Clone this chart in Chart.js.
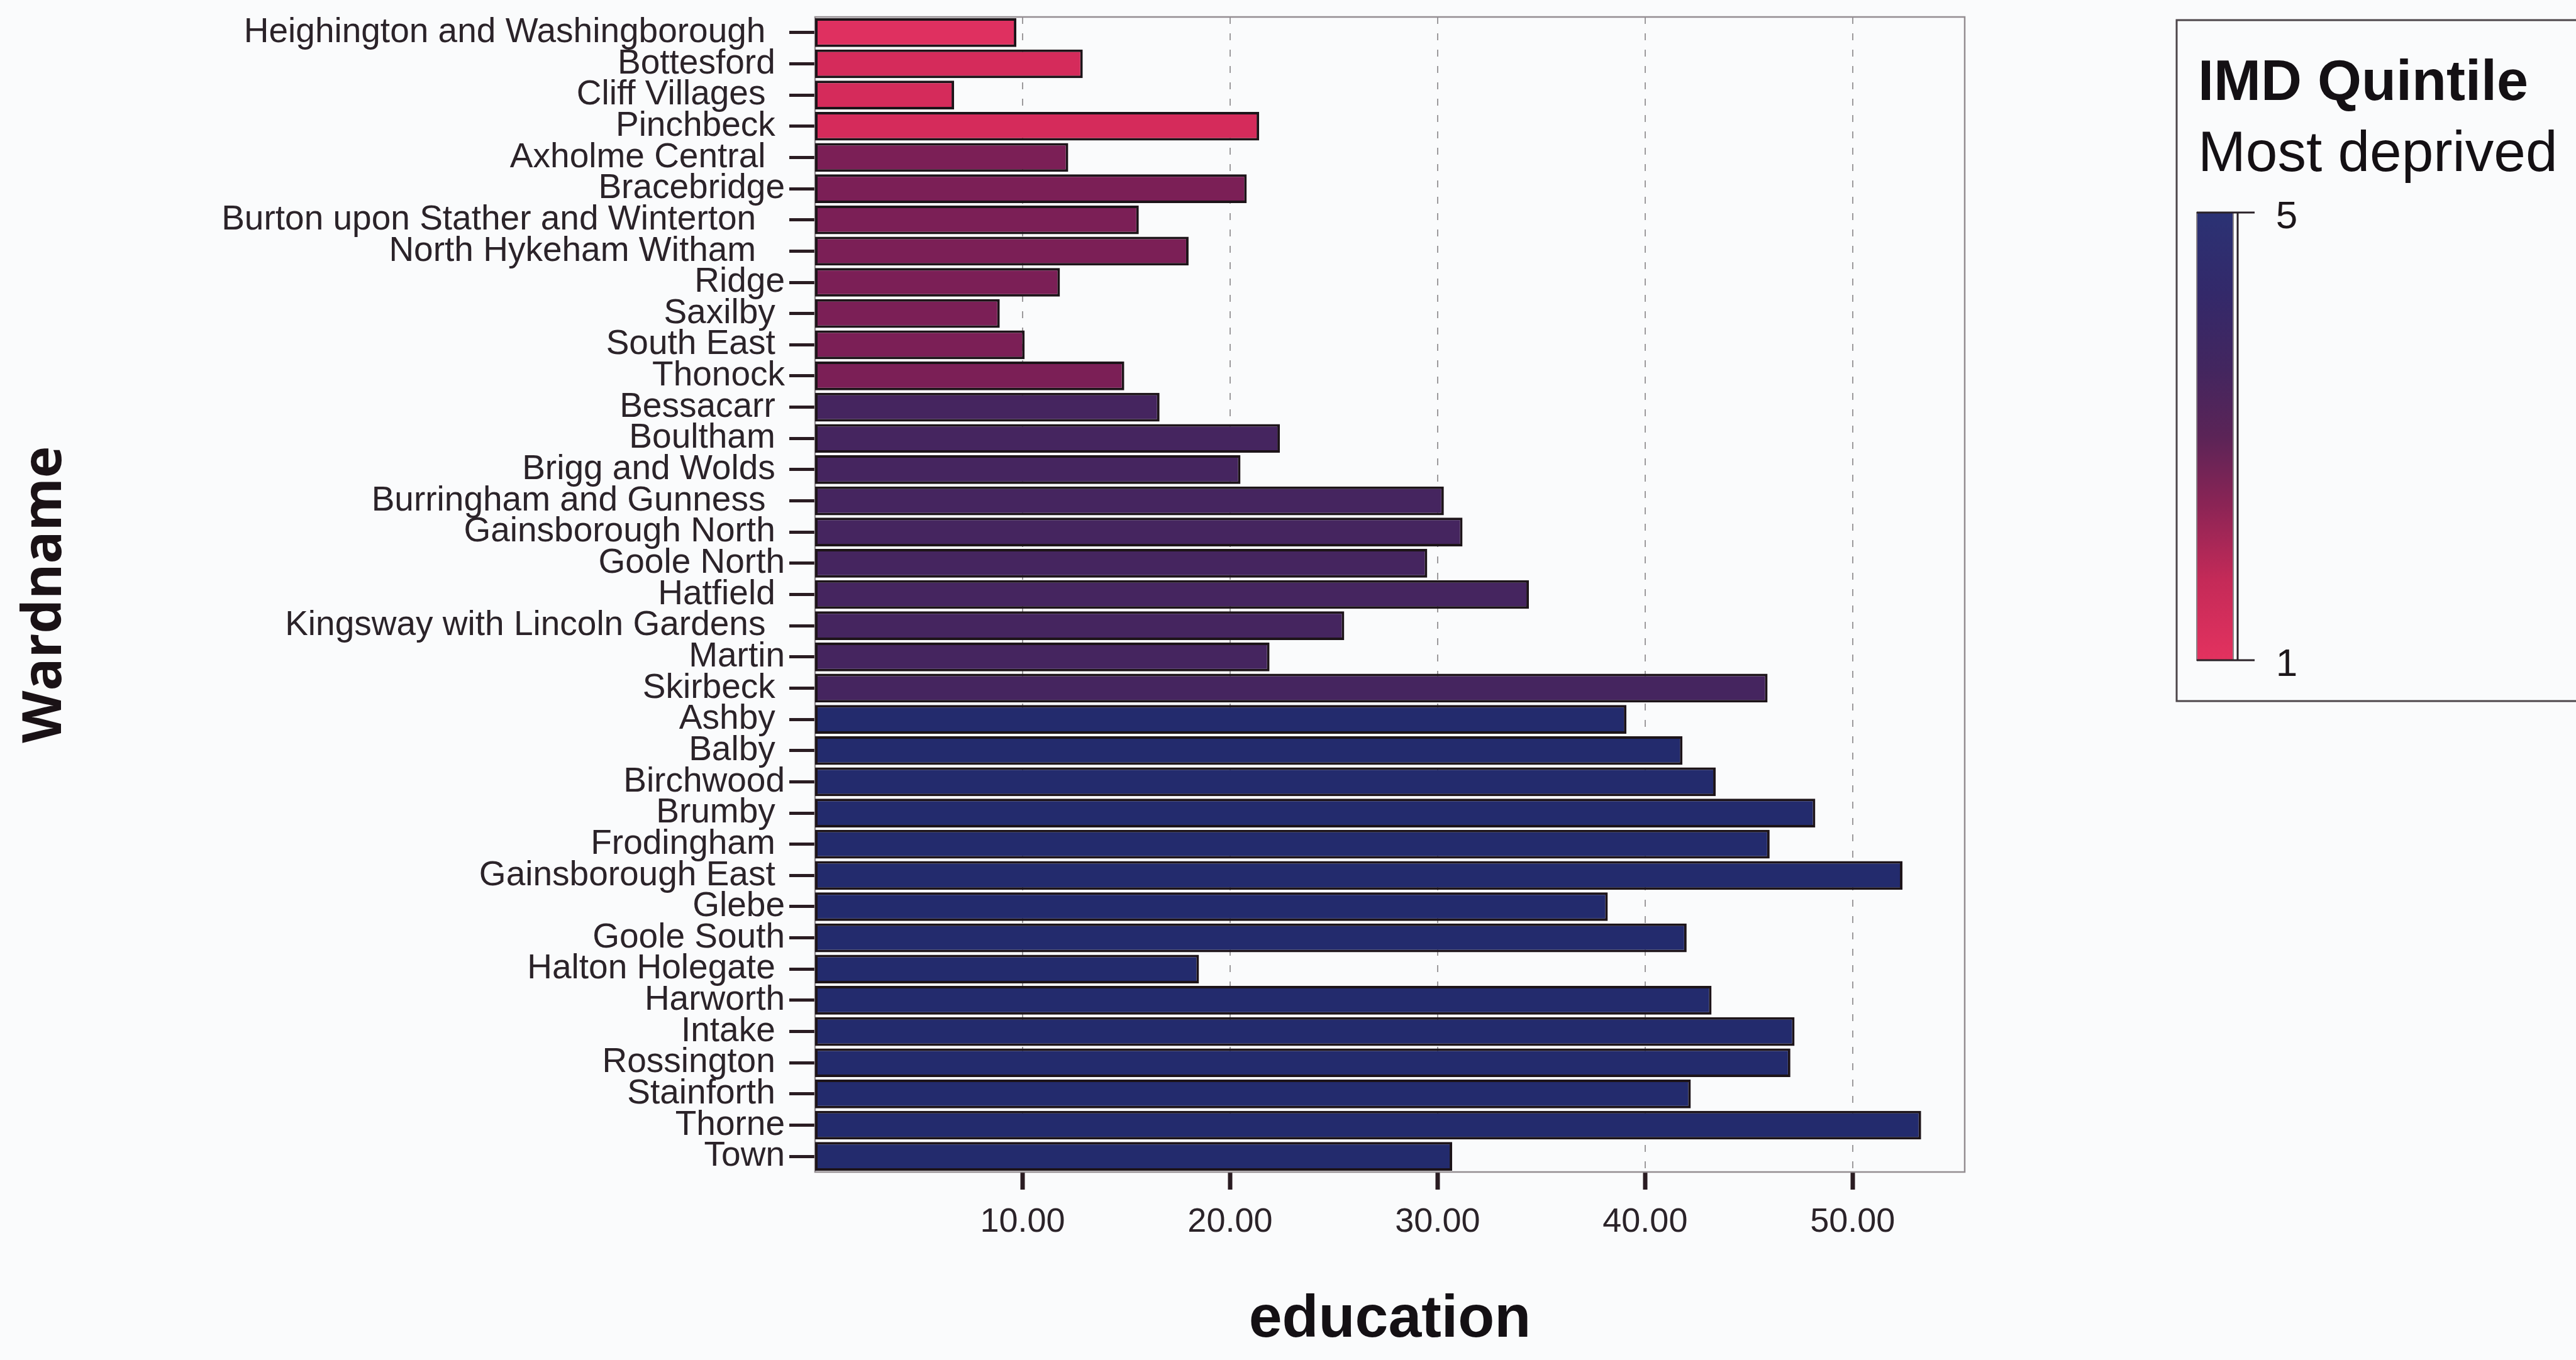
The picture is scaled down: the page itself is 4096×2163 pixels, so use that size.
<!DOCTYPE html>
<html>
<head>
<meta charset="utf-8">
<title>Education score by ward</title>
<script src="https://cdn.jsdelivr.net/npm/chart.js@4.4.1/dist/chart.umd.min.js"></script>
<style>
  html, body { margin: 0; padding: 0; background: #fafbfc; }
  canvas { display: block; }
</style>
</head>
<body>
<canvas id="chart" width="4096" height="2163"></canvas>
<script>
// Ward names (string padding kept as stored in the source table)
const wardNames = [
  'Heighington and Washingborough  ', 'Bottesford ', 'Cliff Villages  ', 'Pinchbeck ',
  'Axholme Central  ', 'Bracebridge', 'Burton upon Stather and Winterton   ', 'North Hykeham Witham   ',
  'Ridge', 'Saxilby ', 'South East ', 'Thonock',
  'Bessacarr ', 'Boultham ', 'Brigg and Wolds ', 'Burringham and Gunness  ',
  'Gainsborough North ', 'Goole North', 'Hatfield ', 'Kingsway with Lincoln Gardens  ',
  'Martin', 'Skirbeck ',
  'Ashby ', 'Balby ', 'Birchwood', 'Brumby ', 'Frodingham ', 'Gainsborough East ',
  'Glebe', 'Goole South', 'Halton Holegate ', 'Harworth', 'Intake ', 'Rossington ',
  'Stainforth ', 'Thorne', 'Town'
];

// Education domain score per ward
const educationScores = [
  9.7, 12.9, 6.7, 21.4,
  12.2, 20.8, 15.6, 18.0, 11.8, 8.9, 10.1, 14.9,
  16.6, 22.4, 20.5, 30.3, 31.2, 29.5, 34.4, 25.5, 21.9, 45.9,
  39.1, 41.8, 43.4, 48.2, 46.0, 52.4, 38.2, 42.0, 18.5, 43.2, 47.2, 47.0, 42.2, 53.3, 30.7
];

// IMD quintile per ward
const imdQuintile = [
  1, 2, 2, 2,
  3, 3, 3, 3, 3, 3, 3, 3,
  4, 4, 4, 4, 4, 4, 4, 4, 4, 4,
  5, 5, 5, 5, 5, 5, 5, 5, 5, 5, 5, 5, 5, 5, 5
];

// Colour for each quintile 1..5
const quintileColours = ['#df3060', '#d52b5b', '#7b1f56', '#45255f', '#232b6d'];

// Axis ticks and key labels
const xTickValues = [10, 20, 30, 40, 50];
const keyTitle = 'IMD Quintile';
const keySubtitle = 'Most deprived';
const keyTop = '5';
const keyBottom = '1';

const SANS = "'Liberation Sans', Arial, sans-serif";

// Frame around the plot area plus the colour key on the right
const frameAndKey = {
  id: 'frameAndKey',
  beforeDatasetsDraw(chart) {
    const { ctx, chartArea: a } = chart;
    ctx.save();
    ctx.strokeStyle = '#938d91';
    ctx.lineWidth = 2.5;
    ctx.strokeRect(a.left, a.top, a.right - a.left, a.bottom - a.top);
    ctx.restore();
  },
  afterDraw(chart) {
    const { ctx } = chart;
    ctx.save();
    // key box
    ctx.strokeStyle = '#4d464a';
    ctx.lineWidth = 3;
    ctx.strokeRect(3461, 32, 900, 1083);

    // headings
    ctx.fillStyle = '#141014';
    ctx.textAlign = 'left';
    ctx.textBaseline = 'middle';
    ctx.font = 'bold 90px ' + SANS;
    ctx.fillText(keyTitle, 3495, 134);
    ctx.font = '91px ' + SANS;
    ctx.fillText(keySubtitle, 3495, 247);

    // gradient bar
    const x0 = 3493, y0 = 338, w = 58, y1 = 1050;
    const g = ctx.createLinearGradient(0, y0, 0, y1);
    g.addColorStop(0.00, '#2b3274');
    g.addColorStop(0.18, '#33296a');
    g.addColorStop(0.35, '#43265f');
    g.addColorStop(0.50, '#5b2457');
    g.addColorStop(0.65, '#8a2455');
    g.addColorStop(0.82, '#c42a58');
    g.addColorStop(1.00, '#e3325f');
    ctx.fillStyle = g;
    ctx.fillRect(x0, y0, w, y1 - y0);
    ctx.strokeStyle = '#8a8488';
    ctx.lineWidth = 2;
    ctx.strokeRect(x0, y0, w, y1 - y0);

    ctx.strokeStyle = '#2a2228';
    ctx.lineWidth = 3;
    ctx.beginPath();
    ctx.moveTo(3558, y0); ctx.lineTo(3558, y1);
    ctx.moveTo(x0, y0); ctx.lineTo(3585, y0);
    ctx.moveTo(x0, y1); ctx.lineTo(3585, y1);
    ctx.stroke();

    ctx.fillStyle = '#1c161a';
    ctx.textAlign = 'center';
    ctx.font = '62px ' + SANS;
    ctx.fillText(keyTop, 3636, 346);
    ctx.fillText(keyBottom, 3636, 1058);
    ctx.restore();
  }
};

const barColours = imdQuintile.map(q => quintileColours[q - 1]);

new Chart(document.getElementById('chart'), {
  type: 'bar',
  data: {
    labels: wardNames,
    datasets: [{
      label: 'education',
      data: educationScores,
      backgroundColor: barColours,
      borderColor: '#1d1419',
      borderWidth: 4,
      borderSkipped: false,
      barPercentage: 0.92,
      categoryPercentage: 1.0
    }]
  },
  options: {
    indexAxis: 'y',
    responsive: false,
    devicePixelRatio: 1,
    animation: false,
    layout: { padding: { top: 27, right: 972, left: 0, bottom: 0 } },
    plugins: {
      legend: { display: false },
      tooltip: { enabled: false }
    },
    scales: {
      x: {
        type: 'linear',
        position: 'bottom',
        min: 0,
        max: 55.4,
        afterBuildTicks(scale) {
          scale.ticks = xTickValues.map(v => ({ value: v }));
        },
        afterFit(scale) {
          scale.height = 299;
          scale.paddingLeft = 0; scale.paddingRight = 0;
          scale.paddingTop = 0; scale.paddingBottom = 0;
        },
        ticks: {
          callback: v => Number(v).toFixed(2),
          font: { family: SANS, size: 54 },
          color: '#2b2329',
          padding: 20,
          maxRotation: 0,
          autoSkip: false
        },
        grid: {
          color: '#9c9a9c',
          lineWidth: 2,
          tickColor: '#2a1c22',
          tickWidth: 7,
          tickLength: 28,
          tickBorderDash: []
        },
        border: { display: false, dash: [11, 15] },
        title: {
          display: true,
          text: 'education',
          font: { family: SANS, size: 95, weight: 'bold' },
          color: '#141014',
          padding: { top: 0, bottom: 6 }
        }
      },
      y: {
        type: 'category',
        offset: true,
        afterFit(scale) {
          scale.width = 1296;
          scale.paddingLeft = 0; scale.paddingRight = 0;
          scale.paddingTop = 0; scale.paddingBottom = 0;
        },
        ticks: {
          font: { family: SANS, size: 55 },
          color: '#2b2329',
          padding: 7,
          autoSkip: false
        },
        grid: {
          offset: false,
          drawOnChartArea: false,
          tickLength: 41,
          tickWidth: 5,
          tickColor: '#2a1c22'
        },
        border: { display: false },
        title: {
          display: true,
          text: 'Wardname',
          font: { family: "'Open Sans', " + SANS, size: 86, weight: 'bold' },
          color: '#1a1216',
          padding: { top: 21, bottom: 0 }
        }
      }
    }
  },
  plugins: [frameAndKey]
});
</script>
</body>
</html>
